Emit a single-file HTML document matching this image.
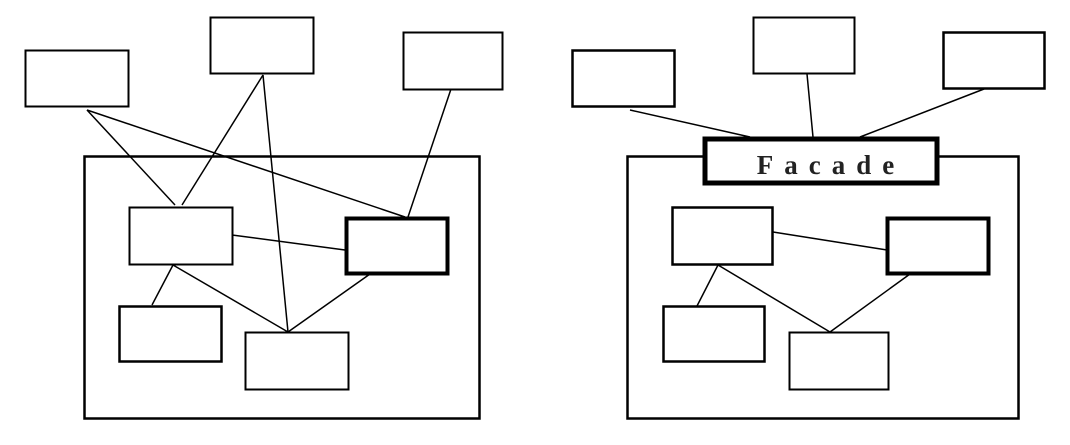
<!DOCTYPE html>
<html><head><meta charset="utf-8"><style>html,body{margin:0;padding:0;background:#fff;}</style></head>
<body>
<svg width="1070" height="440" viewBox="0 0 1070 440" xmlns="http://www.w3.org/2000/svg">
<g fill="none" stroke="#000" stroke-width="1.5">
<!-- left -->
<rect x="25.5" y="50.5" width="103" height="56" stroke-width="2"/>
<rect x="210.5" y="17.5" width="103" height="56" stroke-width="2"/>
<rect x="403.5" y="32.5" width="99" height="57" stroke-width="2"/>
<rect x="84.5" y="156.5" width="395" height="262" stroke-width="2.5"/>
<rect x="129.5" y="207.5" width="103" height="57" stroke-width="2"/>
<rect x="346.5" y="218.5" width="101" height="55" stroke-width="4"/>
<rect x="119.5" y="306.5" width="102" height="55" stroke-width="2.5"/>
<rect x="245.5" y="332.5" width="103" height="57" stroke-width="2"/>
<line x1="87" y1="110" x2="175" y2="205"/>
<line x1="87" y1="110" x2="405" y2="217"/>
<line x1="263" y1="75" x2="182" y2="205"/>
<line x1="263" y1="75" x2="288" y2="332"/>
<line x1="451" y1="89" x2="408" y2="217"/>
<line x1="232" y1="235" x2="345" y2="250"/>
<line x1="173" y1="265" x2="152" y2="305"/>
<line x1="173" y1="265" x2="288" y2="332"/>
<line x1="370" y1="274" x2="288" y2="332"/>
<!-- right -->
<rect x="572.5" y="50.5" width="102" height="56" stroke-width="2.5"/>
<rect x="753.5" y="17.5" width="101" height="56" stroke-width="2"/>
<rect x="943.5" y="32.5" width="101" height="56" stroke-width="2.5"/>
<rect x="627.5" y="156.5" width="391" height="262" stroke-width="2.5"/>
<rect x="672.5" y="207.5" width="100" height="57" stroke-width="2.5"/>
<rect x="887.5" y="218.5" width="101" height="55" stroke-width="4"/>
<rect x="663.5" y="306.5" width="101" height="55" stroke-width="2.5"/>
<rect x="789.5" y="332.5" width="99" height="57" stroke-width="2"/>
<line x1="630" y1="110" x2="750" y2="137"/>
<line x1="807" y1="74" x2="813" y2="137"/>
<line x1="984" y1="89" x2="860" y2="137"/>
<line x1="773" y1="232" x2="887" y2="250"/>
<line x1="718" y1="265" x2="697" y2="306"/>
<line x1="718" y1="265" x2="830" y2="332"/>
<line x1="910" y1="274" x2="830" y2="332"/>
<rect x="705" y="139" width="232" height="44" fill="#fff" stroke-width="5"/>
</g>
<text x="831" y="174" text-anchor="middle" font-family="Liberation Serif, serif" font-weight="bold" font-size="27" letter-spacing="11" fill="#222">Facade</text>
</svg>
</body></html>
